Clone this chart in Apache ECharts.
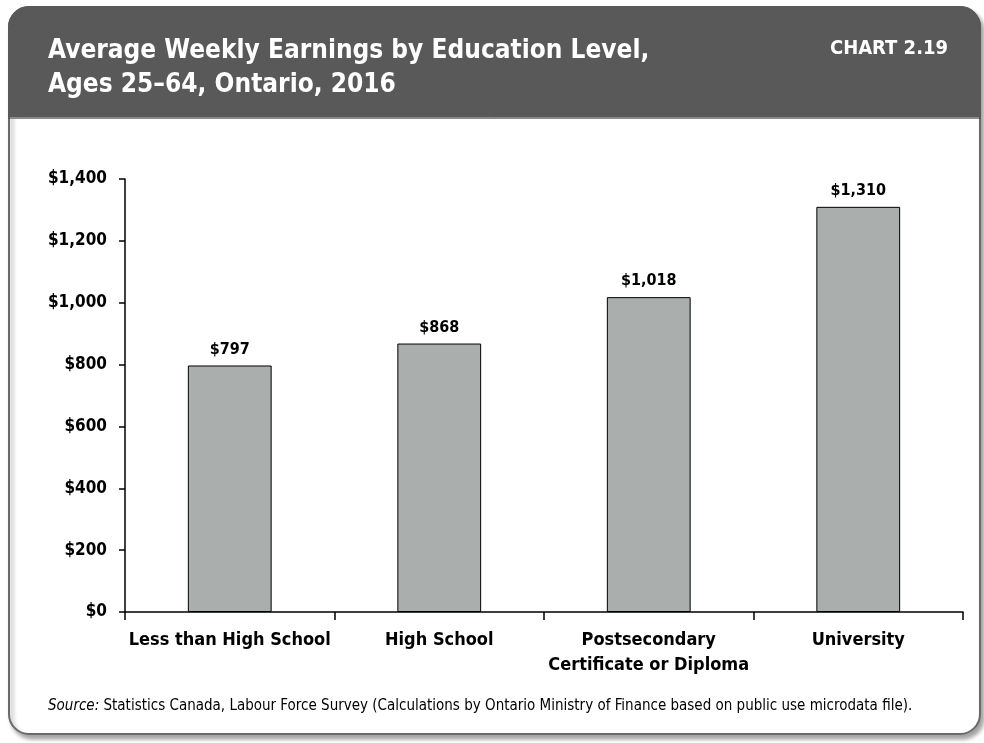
<!DOCTYPE html>
<html><head><meta charset="utf-8">
<script src="https://cdn.jsdelivr.net/npm/echarts@6/dist/echarts.min.js"></script>
<style>html,body{margin:0;padding:0;background:#fff}#c{width:984px;height:743px}</style>
</head><body><div id="c"></div>
<script>
const categories = ['Less than High School', 'High School', 'Postsecondary\nCertificate or Diploma', 'University'];
const earnings = [797, 868, 1018, 1310];
const yTicks = [0, 200, 400, 600, 800, 1000, 1200, 1400];

const FONT = '"Liberation Sans Narrow", "DejaVu Sans Condensed", "Arial Narrow", sans-serif';
const fmt = v => '$' + v.toLocaleString('en-US');

const chart = echarts.init(document.getElementById('c'), null, {renderer: 'canvas'});
chart.setOption({
  animation: false,
  backgroundColor: '#ffffff',
  graphic: [
    {type: 'rect', z: -10, shape: {x: 9, y: 7, width: 971, height: 727, r: 20},
     style: {fill: '#ffffff', stroke: '#6a6a6a', lineWidth: 2, shadowColor: 'rgba(0,0,0,0.35)', shadowOffsetX: 3, shadowOffsetY: 4, shadowBlur: 4}},
    {type: 'rect', z: -9, shape: {x: 9, y: 7, width: 971, height: 111, r: [20, 20, 0, 0]},
     style: {fill: '#595959', stroke: '#595959', lineWidth: 2}},
    {type: 'line', z: -8, shape: {x1: 10, y1: 118, x2: 979, y2: 118}, style: {stroke: '#bdbdbd', lineWidth: 1}}
  ],
  title: [
    {text: 'Average Weekly Earnings by Education Level,\nAges 25–64, Ontario, 2016', left: 43, top: 29,
     textStyle: {color: '#ffffff', fontFamily: FONT, fontSize: 26, fontWeight: 'bold', lineHeight: 34}},
    {text: 'CHART 2.19', right: 31, top: 34,
     textStyle: {color: '#ffffff', fontFamily: FONT, fontSize: 20, fontWeight: 'bold'}},
    {text: '{i|Source:} Statistics Canada, Labour Force Survey (Calculations by Ontario Ministry of Finance based on public use microdata file).',
     left: 43, top: 694,
     textStyle: {color: '#000', fontFamily: FONT, fontSize: 15, fontWeight: 'normal',
       rich: {i: {fontStyle: 'italic', fontFamily: FONT, fontSize: 15, color: '#000'}}}}
  ],
  grid: {left: 125, right: 21, top: 179, bottom: 131, containLabel: false},
  xAxis: {
    type: 'category', data: categories, boundaryGap: true,
    axisLine: {lineStyle: {color: '#000', width: 1.5}},
    axisTick: {show: true, length: 8, lineStyle: {color: '#000', width: 1.5}},
    axisLabel: {color: '#000', fontFamily: FONT, fontSize: 18, fontWeight: 'bold', lineHeight: 25, margin: 16, interval: 0}
  },
  yAxis: {
    type: 'value', min: 0, max: 1400, interval: 200,
    axisLine: {show: true, lineStyle: {color: '#000', width: 1.5}},
    axisTick: {show: true, inside: false, length: 6, lineStyle: {color: '#000', width: 1.5}},
    splitLine: {show: false},
    axisLabel: {color: '#000', fontFamily: FONT, fontSize: 17, fontWeight: 'bold', margin: 18,
      formatter: v => yTicks.includes(v) ? fmt(v) : ''}
  },
  series: [{
    type: 'bar', data: earnings, barWidth: '40%',
    itemStyle: {color: '#aaafad', borderColor: '#000', borderWidth: 1},
    label: {show: true, position: 'top', distance: 8, color: '#000', fontFamily: FONT, fontSize: 16, fontWeight: 'bold',
      formatter: p => fmt(p.value)}
  }]
});
</script></body></html>
